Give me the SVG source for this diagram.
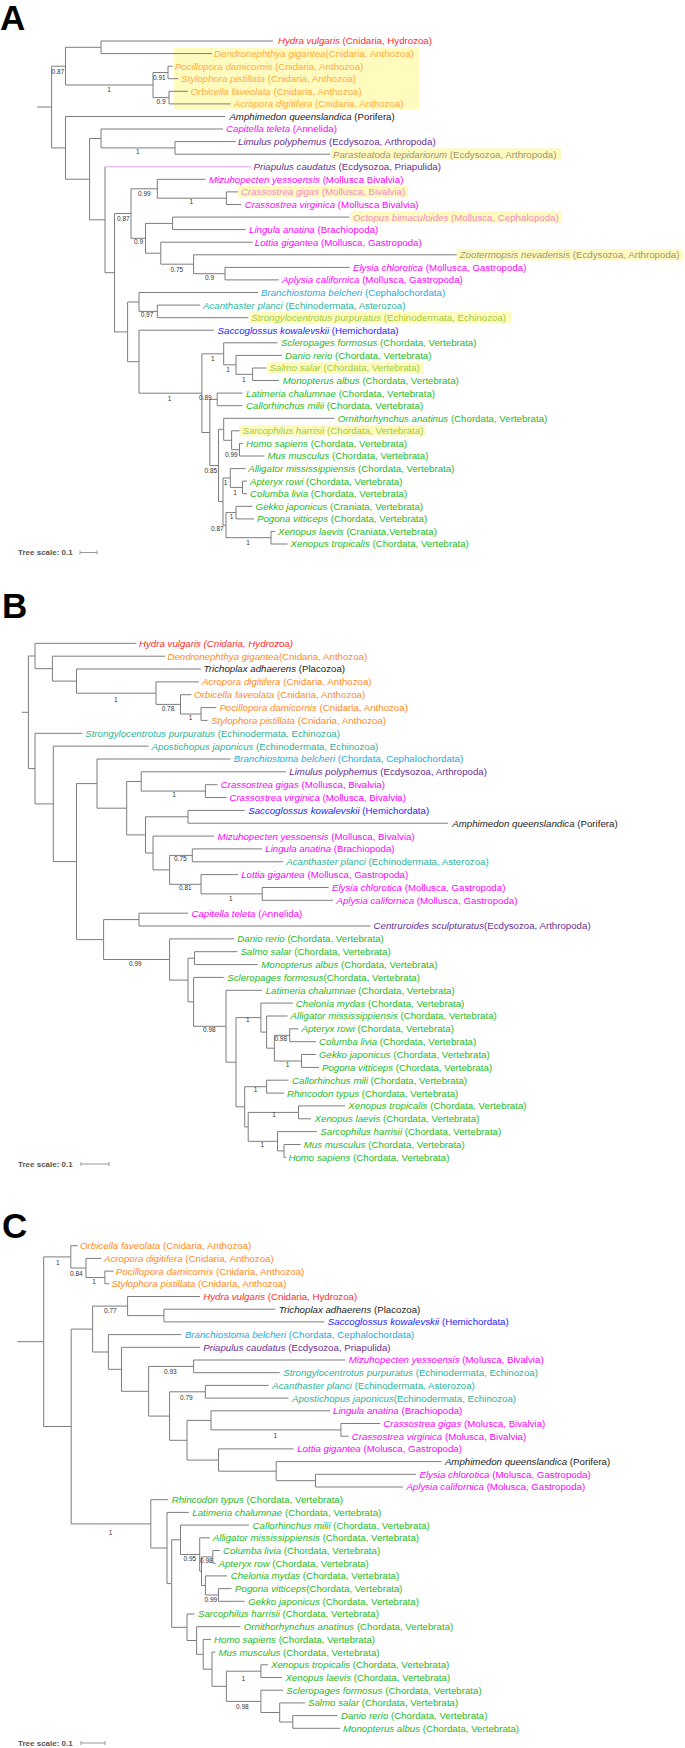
<svg xmlns="http://www.w3.org/2000/svg" width="685" height="1748" viewBox="0 0 685 1748">
<style>
text{font-family:"Liberation Sans",Arial,sans-serif}
.t{font-size:9.7px}
.i{font-style:italic}
.l{fill:none;stroke:#7d7d7d;stroke-width:1}
.bs{font-size:6.5px;fill:#333}
.bm{font-size:6.5px;fill:#333;text-anchor:middle}
.sc{font-size:8px;font-weight:bold;fill:#555}
.sb{fill:none;stroke:#999;stroke-width:1}
.pl{font-size:35px;font-weight:bold;fill:#000}
.hl{fill:#fffbbf}
.cr{fill:#ff2a2a}.co{fill:#ff8a1c}.coy{fill:#ffab40}.ck{fill:#222}.cm{fill:#ff00ff}.cpy{fill:#f48ac4}
.cp{fill:#6a2e92}.cby{fill:#a39274}.cc{fill:#28a9e0}.ct{fill:#2db39b}.cly{fill:#9ccc3c}.cg{fill:#27b827}.cb{fill:#2323ff}
</style>
<rect width="685" height="1748" fill="#fff"/>

<!-- ===================== PANEL A ===================== -->
<g id="a-label"><text class="pl" x="0" y="30">A</text></g>
<g id="a-highlights">
<rect class="hl" x="174" y="47.8" width="245" height="61.4"/>
<rect class="hl" x="331" y="148.4" width="230" height="11.3"/>
<rect class="hl" x="238" y="186.1" width="170" height="11.3"/>
<rect class="hl" x="351" y="211.3" width="211" height="11.3"/>
<rect class="hl" x="456.7" y="249" width="226.3" height="11.3"/>
<rect class="hl" x="249" y="311.9" width="262" height="11.3"/>
<rect class="hl" x="267.4" y="362.2" width="155.6" height="11.3"/>
<rect class="hl" x="239.5" y="425" width="186.5" height="11.3"/>
</g>
<g id="a-connectors">
<path class="l" d="M37,107H51.6 M51.6,66.2V147.9
M51.6,66.2H65.5 M65.5,47.3V85
M65.5,47.3H101 M101,41V53.6 M101,41H273 M101,53.6H212
M65.5,85H153 M153,72.5V97.6
M153,72.5H168 M168,66.2V78.7 M168,66.2H172.6 M168,78.7H178.3
M153,97.6H169 M169,91.3V103.9 M169,91.3H188 M169,103.9H230.7
M51.6,147.9H65.5 M65.5,116.5V179.2 M65.5,116.5H225
M65.5,179.2H89.6 M89.6,138.5V219.8
M89.6,138.5H101 M101,129V147.9 M101,129H223
M101,147.9H175 M175,141.6V154.2 M175,141.6H236 M175,154.2H330
M89.6,219.8H105 M105,166.8V272.7
M105,272.7H114.5 M114.5,213.5V331.9
M114.5,213.5H131 M131,188.8V238.3
M131,188.8H157.3 M157.3,179.3V198.2 M157.3,179.3H205.4
M157.3,198.2H226.4 M226.4,191.9V204.5 M226.4,191.9H238 M226.4,204.5H241
M131,238.3H145.5 M145.5,223.4V253.2
M145.5,223.4H172.6 M172.6,217.1V229.6 M172.6,217.1H349.6 M172.6,229.6H245.6
M145.5,253.2H160.8 M160.8,242.2V264.2 M160.8,242.2H252.6
M160.8,264.2H193.6 M193.6,254.8V273.7 M193.6,254.8H456.7
M193.6,273.7H225 M225,267.4V279.9 M225,267.4H349.6 M225,279.9H278.8
M114.5,331.9H127.6 M127.6,302V361.7
M127.6,302H139 M139,292.5V311.4 M139,292.5H258
M139,311.4H157.3 M157.3,305.1V317.7 M157.3,305.1H200 M157.3,317.7H248.2
M127.6,361.7H139 M139,330.2V393.2 M139,330.2H214
M139,393.2H201.9 M201.9,353.8V432.5
M201.9,353.8H223.7 M223.7,342.8V364.8 M223.7,342.8H277.5
M223.7,364.8H236 M236,355.4V374.3 M236,355.4H281.9
M236,374.3H252.6 M252.6,368V380.5 M252.6,368H266.6 M252.6,380.5H278.8
M201.9,432.5H209.8 M209.8,399.4V465.5
M209.8,399.4H217.2 M217.2,393.1V405.7 M217.2,393.1H242.5 M217.2,405.7H242.5
M209.8,465.5H218.5 M218.5,429.3V501.6
M218.5,429.3H223.7 M223.7,418.3V440.3 M223.7,418.3H334.3
M223.7,440.3H231.6 M231.6,430.8V449.7 M231.6,430.8H239.5
M231.6,449.7H239.5 M239.5,443.4V456 M239.5,443.4H243 M239.5,456H264.4
M218.5,501.6H223 M223,478V525.2
M223,478H230.3 M230.3,468.6V487.4 M230.3,468.6H245.6
M230.3,487.4H242.5 M242.5,481.1V493.7 M242.5,481.1H247 M242.5,493.7H247
M223,525.2H226 M226,512.6V537.7
M226,512.6H236 M236,506.3V518.9 M236,506.3H252.6 M236,518.9H254
M226,537.7H271 M271,531.4V544 M271,531.4H275 M271,544H287.5"/>
<path d="M105,166.8H251" fill="none" stroke="#d9a3ee" stroke-width="1"/>
</g>
<g id="a-support">
<text class="bs" x="51.6" y="74">0.87</text>
<text class="bm" x="109" y="91.6">1</text>
<text class="bs" x="153" y="79.6">0.91</text>
<text class="bs" x="156.5" y="104">0.9</text>
<text class="bm" x="137.7" y="154">1</text>
<text class="bs" x="138" y="196.3">0.99</text>
<text class="bm" x="191.4" y="204">1</text>
<text class="bs" x="117" y="220.6">0.87</text>
<text class="bs" x="134" y="244.3">0.9</text>
<text class="bs" x="170.5" y="271.6">0.75</text>
<text class="bs" x="205" y="279.6">0.9</text>
<text class="bs" x="140.7" y="317.3">0.97</text>
<text class="bm" x="212.8" y="361.3">1</text>
<text class="bm" x="228" y="371.6">1</text>
<text class="bm" x="243.8" y="381.6">1</text>
<text class="bs" x="199" y="399.6">0.89</text>
<text class="bm" x="169.6" y="400.6">1</text>
<text class="bs" x="225" y="457.3">0.99</text>
<text class="bs" x="204.5" y="473.3">0.85</text>
<text class="bm" x="225.5" y="485">1</text>
<text class="bm" x="235" y="494.6">1</text>
<text class="bm" x="231.6" y="519">1</text>
<text class="bs" x="211" y="531.3">0.87</text>
<text class="bm" x="248" y="544.6">1</text>
</g>
<g id="a-hydra"><text class="t cr" x="278" y="44.4"><tspan class="i">Hydra vulgaris</tspan> (Cnidaria, Hydrozoa)</text></g>
<g id="a-dendronephthya"><text class="t coy" x="214" y="57"><tspan class="i">Dendronephthya gigantea</tspan>(Cnidaria, Anthozoa)</text></g>
<g id="a-pocillopora"><text class="t coy" x="174.8" y="69.6"><tspan class="i">Pocillopora damicornis</tspan> (Cnidaria, Anthozoa)</text></g>
<g id="a-stylophora"><text class="t coy" x="181" y="82.1"><tspan class="i">Stylophora pistillata</tspan> (Cnidaria, Anthozoa)</text></g>
<g id="a-orbicella"><text class="t coy" x="190.5" y="94.7"><tspan class="i">Orbicella faveolata</tspan> (Cnidaria, Anthozoa)</text></g>
<g id="a-acropora"><text class="t coy" x="233.8" y="107.3"><tspan class="i">Acropora digitifera</tspan> (Cnidaria, Anthozoa)</text></g>
<g id="a-amphimedon"><text class="t ck" x="229.4" y="119.9"><tspan class="i">Amphimedon queenslandica</tspan> (Porifera)</text></g>
<g id="a-capitella"><text class="t cm" x="226" y="132.4"><tspan class="i">Capitella teleta</tspan> (Annelida)</text></g>
<g id="a-limulus"><text class="t cp" x="238" y="145"><tspan class="i">Limulus polyphemus</tspan> (Ecdysozoa, Arthropoda)</text></g>
<g id="a-parasteatoda"><text class="t cby" x="333" y="157.6"><tspan class="i">Parasteatoda tepidariorum</tspan> (Ecdysozoa, Arthropoda)</text></g>
<g id="a-priapulus"><text class="t cp" x="253.5" y="170.2"><tspan class="i">Priapulus caudatus</tspan> (Ecdysozoa, Priapulida)</text></g>
<g id="a-mizuhopecten"><text class="t cm" x="209" y="182.7"><tspan class="i">Mizuhopecten yessoensis</tspan> (Mollusca Bivalvia)</text></g>
<g id="a-crassostrea-gigas"><text class="t cpy" x="241" y="195.3"><tspan class="i">Crassostrea gigas</tspan> (Mollusca, Bivalvia)</text></g>
<g id="a-crassostrea-virginica"><text class="t cm" x="244.7" y="207.9"><tspan class="i">Crassostrea virginica</tspan> (Mollusca Bivalvia)</text></g>
<g id="a-octopus"><text class="t cpy" x="353" y="220.5"><tspan class="i">Octopus bimaculoides</tspan> (Mollusca, Cephalopoda)</text></g>
<g id="a-lingula"><text class="t cm" x="249" y="233"><tspan class="i">Lingula anatina</tspan> (Brachiopoda)</text></g>
<g id="a-lottia"><text class="t cm" x="254.8" y="245.6"><tspan class="i">Lottia gigantea</tspan> (Mollusca, Gastropoda)</text></g>
<g id="a-zootermopsis"><text class="t cby" x="459.7" y="258.2"><tspan class="i">Zootermopsis nevadensis</tspan> (Ecdysozoa, Arthropoda)</text></g>
<g id="a-elysia"><text class="t cm" x="353" y="270.8"><tspan class="i">Elysia chlorotica</tspan> (Mollusca, Gastropoda)</text></g>
<g id="a-aplysia"><text class="t cm" x="281.9" y="283.3"><tspan class="i">Aplysia californica</tspan> (Mollusca, Gastropoda)</text></g>
<g id="a-branchiostoma"><text class="t cc" x="261" y="295.9"><tspan class="i">Branchiostoma belcheri</tspan> (Cephalochordata)</text></g>
<g id="a-acanthaster"><text class="t ct" x="203" y="308.5"><tspan class="i">Acanthaster planci</tspan> (Echinodermata, Asterozoa)</text></g>
<g id="a-strongylocentrotus"><text class="t cly" x="251.3" y="321.1"><tspan class="i">Strongylocentrotus purpuratus</tspan> (Echinodermata, Echinozoa)</text></g>
<g id="a-saccoglossus"><text class="t cb" x="217.6" y="333.6"><tspan class="i">Saccoglossus kowalevskii</tspan> (Hemichordata)</text></g>
<g id="a-scleropages"><text class="t cg" x="281" y="346.2"><tspan class="i">Scleropages formosus</tspan> (Chordata, Vertebrata)</text></g>
<g id="a-danio"><text class="t cg" x="285" y="358.8"><tspan class="i">Danio rerio</tspan> (Chordata, Vertebrata)</text></g>
<g id="a-salmo"><text class="t cly" x="269.6" y="371.4"><tspan class="i">Salmo salar</tspan> (Chordata, Vertebrata)</text></g>
<g id="a-monopterus"><text class="t cg" x="282.7" y="383.9"><tspan class="i">Monopterus albus</tspan> (Chordata, Vertebrata)</text></g>
<g id="a-latimeria"><text class="t cg" x="246" y="396.5"><tspan class="i">Latimeria chalumnae</tspan> (Chordata, Vertebrata)</text></g>
<g id="a-callorhinchus"><text class="t cg" x="246" y="409.1"><tspan class="i">Callorhinchus milii</tspan> (Chordata, Vertebrata)</text></g>
<g id="a-ornithorhynchus"><text class="t cg" x="337.8" y="421.7"><tspan class="i">Ornithorhynchus anatinus</tspan> (Chordata, Vertebrata)</text></g>
<g id="a-sarcophilus"><text class="t cly" x="242.5" y="434.2"><tspan class="i">Sarcophilus harrisii</tspan> (Chordata, Vertebrata)</text></g>
<g id="a-homo"><text class="t cg" x="246" y="446.8"><tspan class="i">Homo sapiens</tspan> (Chordata, Vertebrata)</text></g>
<g id="a-mus"><text class="t cg" x="267.4" y="459.4"><tspan class="i">Mus musculus</tspan> (Chordata, Vertebrata)</text></g>
<g id="a-alligator"><text class="t cg" x="248.2" y="472"><tspan class="i">Alligator mississippiensis</tspan> (Chordata, Vertebrata)</text></g>
<g id="a-apteryx"><text class="t cg" x="250" y="484.5"><tspan class="i">Apteryx rowi</tspan> (Chordata, Vertebrata)</text></g>
<g id="a-columba"><text class="t cg" x="250" y="497.1"><tspan class="i">Columba livia</tspan> (Chordata, Vertebrata)</text></g>
<g id="a-gekko"><text class="t cg" x="255.6" y="509.7"><tspan class="i">Gekko japonicus</tspan> (Craniata, Vertebrata)</text></g>
<g id="a-pogona"><text class="t cg" x="257" y="522.3"><tspan class="i">Pogona vitticeps</tspan> (Chordata, Vertebrata)</text></g>
<g id="a-xenopus-laevis"><text class="t cg" x="278" y="534.8"><tspan class="i">Xenopus laevis</tspan> (Craniata,Vertebrata)</text></g>
<g id="a-xenopus-tropicalis"><text class="t cg" x="290.6" y="547.4"><tspan class="i">Xenopus tropicalis</tspan> (Chordata, Vertebrata)</text></g>
<g id="a-scale"><text class="sc" x="18" y="555.3">Tree scale: 0.1</text><path class="sb" d="M80,552.5H97 M80,550.5V554.5 M97,550.5V554.5"/></g>

<!-- ===================== PANEL B ===================== -->
<g id="b-label"><text class="pl" x="2" y="618">B</text></g>
<g id="b-connectors">
<path class="l" d="M21.8,712.3H28.4 M28.4,656V768.6
M28.4,656H35 M35,643.3V668.7 M35,643.3H136.3
M35,668.7H52.4 M52.4,656.2V681.1 M52.4,656.2H165.2
M52.4,681.1H76.5 M76.5,669V693.2 M76.5,669H201
M76.5,693.2H156 M156,681.9V704.4 M156,681.9H198.8
M156,704.4H180.5 M180.5,694.7V714 M180.5,694.7H191.4
M180.5,714H201 M201,707.6V720.4 M201,707.6H216.3 M201,720.4H207.6
M28.4,768.6H35 M35,733.3V803.9 M35,733.3H82.2
M35,803.9H53.3 M53.3,746.1V861.6 M53.3,746.1H148.6
M53.3,861.6H76.5 M76.5,783.6V939.6
M76.5,783.6H97 M97,759V808.2 M97,759H230.7
M97,808.2H126.7 M126.7,781.5V834.9
M126.7,781.5H141.2 M141.2,771.8V791.1 M141.2,771.8H286.2
M141.2,791.1H205.4 M205.4,784.7V797.5 M205.4,784.7H217.6 M205.4,797.5H226.4
M126.7,834.9H145.5 M145.5,816.8V853
M145.5,816.8H188 M188,810.4V823.2 M188,810.4H244.7 M188,823.2H448
M145.5,853H153 M153,836.1V869.9 M153,836.1H214
M153,869.9H169.6 M169.6,855.4V884.3
M169.6,855.4H192.3 M192.3,848.9V861.8 M192.3,848.9H262.2 M192.3,861.8H283.2
M169.6,884.3H201 M201,874.6V893.9 M201,874.6H238.2
M201,893.9H262.2 M262.2,887.5V900.3 M262.2,887.5H328.6 M262.2,900.3H333
M76.5,939.6H103.6 M103.6,919.6V959.5
M103.6,919.6H139 M139,913.2V926 M139,913.2H188 M139,926H370.6
M103.6,959.5H169.6 M169.6,938.9V980.1 M169.6,938.9H234.2
M169.6,980.1H188 M188,958.2V1001.9
M188,958.2H194.5 M194.5,951.7V964.6 M194.5,951.7H237.3 M194.5,964.6H257.8
M188,1001.9H193.6 M193.6,977.4V1026.3 M193.6,977.4H223.7
M193.6,1026.3H226 M226,990.3V1062.2 M226,990.3H262.2
M226,1062.2H236 M236,1017.6V1106.8
M236,1017.6H260.9 M260.9,1003.1V1032.1 M260.9,1003.1H292.8
M260.9,1032.1H266.6 M266.6,1016V1048.2 M266.6,1016H287.5
M266.6,1048.2H274.4 M274.4,1035.3V1061
M274.4,1035.3H289.7 M289.7,1028.8V1041.7 M289.7,1028.8H298.5 M289.7,1041.7H316
M274.4,1061H301.5 M301.5,1054.5V1067.4 M301.5,1054.5H316 M301.5,1067.4H319
M236,1106.8H244.7 M244.7,1086.7V1126.9
M244.7,1086.7H266.6 M266.6,1080.2V1093.1 M266.6,1080.2H288.4 M266.6,1093.1H284
M244.7,1126.9H248.2 M248.2,1112.4V1141.3
M248.2,1112.4H298.5 M298.5,1105.9V1118.8 M298.5,1105.9H345.2 M298.5,1118.8H311
M248.2,1141.3H277.5 M277.5,1131.6V1150.9 M277.5,1131.6H316.8
M277.5,1150.9H284 M284,1144.5V1157.3 M284,1144.5H300.6 M284,1157.3H286.2"/>
</g>
<g id="b-support">
<text class="bm" x="115.8" y="701.6">1</text>
<text class="bs" x="161.7" y="710.6">0.78</text>
<text class="bm" x="190.5" y="720.3">1</text>
<text class="bm" x="174" y="797.3">1</text>
<text class="bs" x="174" y="861.3">0.75</text>
<text class="bs" x="179" y="889.6">0.81</text>
<text class="bm" x="230.7" y="900.6">1</text>
<text class="bs" x="129" y="965.6">0.99</text>
<text class="bs" x="203" y="1032.3">0.98</text>
<text class="bm" x="247.8" y="1022.3">1</text>
<text class="bs" x="274.4" y="1040.6">0.98</text>
<text class="bm" x="287.5" y="1066.6">1</text>
<text class="bm" x="255.6" y="1092.3">1</text>
<text class="bm" x="274" y="1117.3">1</text>
<text class="bm" x="262.2" y="1147.3">1</text>
</g>
<g id="b-hydra"><text class="t cr i" x="139" y="646.7">Hydra vulgaris (Cnidaria, Hydrozoa)</text></g>
<g id="b-dendronephthya"><text class="t co" x="167.4" y="659.6"><tspan class="i">Dendronephthya gigantea</tspan>(Cnidaria, Anthozoa)</text></g>
<g id="b-trichoplax"><text class="t ck" x="203.6" y="672.4"><tspan class="i">Trichoplax adhaerens</tspan> (Placozoa)</text></g>
<g id="b-acropora"><text class="t co" x="201.9" y="685.3"><tspan class="i">Acropora digitifera</tspan> (Cnidaria, Anthozoa)</text></g>
<g id="b-orbicella"><text class="t co" x="194" y="698.1"><tspan class="i">Orbicella faveolata</tspan> (Cnidaria, Anthozoa)</text></g>
<g id="b-pocillopora"><text class="t co" x="219.4" y="711"><tspan class="i">Pocillopora damicornis</tspan> (Cnidaria, Anthozoa)</text></g>
<g id="b-stylophora"><text class="t co" x="211" y="723.8"><tspan class="i">Stylophora pistillata</tspan> (Cnidaria, Anthozoa)</text></g>
<g id="b-strongylocentrotus"><text class="t ct" x="85.2" y="736.7"><tspan class="i">Strongylocentrotus purpuratus</tspan> (Echinodermata, Echinozoa)</text></g>
<g id="b-apostichopus"><text class="t ct" x="151.6" y="749.5"><tspan class="i">Apostichopus japonicus</tspan> (Echinodermata, Echinozoa)</text></g>
<g id="b-branchiostoma"><text class="t cc" x="233.8" y="762.4"><tspan class="i">Branchiostoma belcheri</tspan> (Chordata, Cephalochordata)</text></g>
<g id="b-limulus"><text class="t cp" x="289.3" y="775.2"><tspan class="i">Limulus polyphemus</tspan> (Ecdysozoa, Arthropoda)</text></g>
<g id="b-crassostrea-gigas"><text class="t cm" x="220.7" y="788.1"><tspan class="i">Crassostrea gigas</tspan> (Mollusca, Bivalvia)</text></g>
<g id="b-crassostrea-virginica"><text class="t cm" x="229.4" y="800.9"><tspan class="i">Crassostrea virginica</tspan> (Mollusca, Bivalvia)</text></g>
<g id="b-saccoglossus"><text class="t cb" x="248.2" y="813.8"><tspan class="i">Saccoglossus kowalevskii</tspan> (Hemichordata)</text></g>
<g id="b-amphimedon"><text class="t ck" x="452.3" y="826.6"><tspan class="i">Amphimedon queenslandica</tspan> (Porifera)</text></g>
<g id="b-mizuhopecten"><text class="t cm" x="217.6" y="839.5"><tspan class="i">Mizuhopecten yessoensis</tspan> (Mollusca, Bivalvia)</text></g>
<g id="b-lingula"><text class="t cm" x="265.3" y="852.3"><tspan class="i">Lingula anatina</tspan> (Brachiopoda)</text></g>
<g id="b-acanthaster"><text class="t ct" x="286.2" y="865.2"><tspan class="i">Acanthaster planci</tspan> (Echinodermata, Asterozoa)</text></g>
<g id="b-lottia"><text class="t cm" x="241.2" y="878"><tspan class="i">Lottia gigantea</tspan> (Mollusca, Gastropoda)</text></g>
<g id="b-elysia"><text class="t cm" x="332" y="890.9"><tspan class="i">Elysia chlorotica</tspan> (Mollusca, Gastropoda)</text></g>
<g id="b-aplysia"><text class="t cm" x="336.5" y="903.7"><tspan class="i">Aplysia californica</tspan> (Mollusca, Gastropoda)</text></g>
<g id="b-capitella"><text class="t cm" x="191.4" y="916.6"><tspan class="i">Capitella teleta</tspan> (Annelida)</text></g>
<g id="b-centruroides"><text class="t cp" x="373.6" y="929.4"><tspan class="i">Centruroides sculpturatus</tspan>(Ecdysozoa, Arthropoda)</text></g>
<g id="b-danio"><text class="t cg" x="237.3" y="942.3"><tspan class="i">Danio rerio</tspan> (Chordata, Vertebrata)</text></g>
<g id="b-salmo"><text class="t cg" x="240.4" y="955.1"><tspan class="i">Salmo salar</tspan> (Chordata, Vertebrata)</text></g>
<g id="b-monopterus"><text class="t cg" x="261.3" y="968"><tspan class="i">Monopterus albus</tspan> (Chordata, Vertebrata)</text></g>
<g id="b-scleropages"><text class="t cg" x="227.2" y="980.8"><tspan class="i">Scleropages formosus</tspan>(Chordata, Vertebrata)</text></g>
<g id="b-latimeria"><text class="t cg" x="265.7" y="993.7"><tspan class="i">Latimeria chalumnae</tspan> (Chordata, Vertebrata)</text></g>
<g id="b-chelonia"><text class="t cg" x="295.8" y="1006.5"><tspan class="i">Chelonia mydas</tspan> (Chordata, Vertebrata)</text></g>
<g id="b-alligator"><text class="t cg" x="290.6" y="1019.4"><tspan class="i">Alligator mississippiensis</tspan> (Chordata, Vertebrata)</text></g>
<g id="b-apteryx"><text class="t cg" x="301.5" y="1032.2"><tspan class="i">Apteryx rowi</tspan> (Chordata, Vertebrata)</text></g>
<g id="b-columba"><text class="t cg" x="319" y="1045.1"><tspan class="i">Columba livia</tspan> (Chordata, Vertebrata)</text></g>
<g id="b-gekko"><text class="t cg" x="319" y="1057.9"><tspan class="i">Gekko japonicus</tspan> (Chordata, Vertebrata)</text></g>
<g id="b-pogona"><text class="t cg" x="322" y="1070.8"><tspan class="i">Pogona vitticeps</tspan> (Chordata, Vertebrata)</text></g>
<g id="b-callorhinchus"><text class="t cg" x="292" y="1083.6"><tspan class="i">Callorhinchus mili</tspan> (Chordata, Vertebrata)</text></g>
<g id="b-rhincodon"><text class="t cg" x="287" y="1096.5"><tspan class="i">Rhincodon typus</tspan> (Chordata, Vertebrata)</text></g>
<g id="b-xenopus-tropicalis"><text class="t cg" x="348.3" y="1109.3"><tspan class="i">Xenopus tropicalis</tspan> (Chordata, Vertebrata)</text></g>
<g id="b-xenopus-laevis"><text class="t cg" x="314.6" y="1122.2"><tspan class="i">Xenopus laevis</tspan> (Chordata, Vertebrata)</text></g>
<g id="b-sarcophilus"><text class="t cg" x="320.3" y="1135"><tspan class="i">Sarcophilus harrisii</tspan> (Chordata, Vertebrata)</text></g>
<g id="b-mus"><text class="t cg" x="303.7" y="1147.9"><tspan class="i">Mus musculus</tspan> (Chordata, Vertebrata)</text></g>
<g id="b-homo"><text class="t cg" x="288.4" y="1160.7"><tspan class="i">Homo sapiens</tspan> (Chordata, Vertebrata)</text></g>
<g id="b-scale"><text class="sc" x="18" y="1167">Tree scale: 0.1</text><path class="sb" d="M81,1164H109 M81,1162V1166 M109,1162V1166"/></g>

<!-- ===================== PANEL C ===================== -->
<g id="c-label"><text class="pl" x="2" y="1238">C</text></g>
<g id="c-connectors">
<path class="l" d="M17.5,1341.7H43.7 M43.7,1256.9V1426.5
M43.7,1256.9H70.8 M70.8,1245.7V1268 M70.8,1245.7H77.8
M70.8,1268H86 M86,1258.4V1277.5 M86,1258.4H101.4
M86,1277.5H104.9 M104.9,1271.1V1283.8 M104.9,1271.1H113.6 M104.9,1283.8H109.2
M43.7,1426.5H71.2 M71.2,1329.1V1523.9
M71.2,1329.1H92.6 M92.6,1306.1V1352
M92.6,1306.1H127.6 M127.6,1296.5V1315.6 M127.6,1296.5H200
M127.6,1315.6H163.9 M163.9,1309.2V1321.9 M163.9,1309.2H275.3 M163.9,1321.9H324.3
M92.6,1352H108.4 M108.4,1334.6V1369.3 M108.4,1334.6H181.4
M108.4,1369.3H121.5 M121.5,1347.3V1391.3 M121.5,1347.3H200
M121.5,1391.3H148.6 M148.6,1366.4V1416.1
M148.6,1366.4H193.6 M193.6,1360V1372.7 M193.6,1360H345.2 M193.6,1372.7H279.7
M148.6,1416.1H169.6 M169.6,1391.8V1440.3
M169.6,1391.8H205.4 M205.4,1385.4V1398.1 M205.4,1385.4H268.8 M205.4,1398.1H288.4
M169.6,1440.3H187 M187,1420.4V1460.1
M187,1420.4H211 M211,1410.8V1429.9 M211,1410.8H330
M211,1429.9H340.9 M340.9,1423.5V1436.2 M340.9,1423.5H380.2 M340.9,1436.2H348.7
M187,1460.1H218.5 M218.5,1448.9V1471.2 M218.5,1448.9H293.7
M218.5,1471.2H276.2 M276.2,1461.6V1480.7 M276.2,1461.6H441.4
M276.2,1480.7H315.5 M315.5,1474.3V1487 M315.5,1474.3H416 M315.5,1487H403
M71.2,1523.9H150.8 M150.8,1499.7V1548 M150.8,1499.7H168.2
M150.8,1548H167 M167,1512.4V1583.6 M167,1512.4H188.8
M167,1583.6H171.7 M171.7,1539.8V1627.3
M171.7,1539.8H180.5 M180.5,1525.1V1554.5 M180.5,1525.1H249
M180.5,1554.5H199.7 M199.7,1537.8V1571.2 M199.7,1537.8H209.8
M199.7,1571.2H201.5 M201.5,1556.9V1585.5
M201.5,1556.9H212.8 M212.8,1550.5V1563.2 M212.8,1550.5H219.8 M212.8,1563.2H215.5
M201.5,1585.5H205.4 M205.4,1575.9V1595 M205.4,1575.9H227.2
M205.4,1595H218.5 M218.5,1588.6V1601.3 M218.5,1588.6H231.6 M218.5,1601.3H244.7
M171.7,1627.3H187 M187,1614V1640.5 M187,1614H194.5
M187,1640.5H196.6 M196.6,1626.7V1654.3 M196.6,1626.7H240.4
M196.6,1654.3H203.2 M203.2,1639.4V1669.2 M203.2,1639.4H211
M203.2,1669.2H212 M212,1652.1V1686.3 M212,1652.1H215.4
M212,1686.3H226.4 M226.4,1671.2V1701.4
M226.4,1671.2H260.9 M260.9,1664.8V1677.5 M260.9,1664.8H267.9 M260.9,1677.5H281.9
M226.4,1701.4H260.9 M260.9,1690.2V1712.5 M260.9,1690.2H283.2
M260.9,1712.5H279.7 M279.7,1702.9V1722 M279.7,1702.9H305
M279.7,1722H292.8 M292.8,1715.6V1728.3 M292.8,1715.6H337.4 M292.8,1728.3H340"/>
</g>
<g id="c-support">
<text class="bm" x="57.7" y="1264.6">1</text>
<text class="bs" x="70" y="1275.6">0.84</text>
<text class="bm" x="94" y="1284">1</text>
<text class="bs" x="104" y="1313">0.77</text>
<text class="bs" x="164" y="1374">0.93</text>
<text class="bs" x="180" y="1399.6">0.79</text>
<text class="bm" x="275.3" y="1438">1</text>
<text class="bm" x="110.6" y="1535">1</text>
<text class="bs" x="183.5" y="1561.3">0.95</text>
<text class="bs" x="200" y="1563.3">0.98</text>
<text class="bs" x="204.5" y="1602.3">0.99</text>
<text class="bm" x="243.4" y="1681.3">1</text>
<text class="bs" x="236" y="1709">0.98</text>
</g>
<g id="c-orbicella"><text class="t co" x="80" y="1249.1"><tspan class="i">Orbicella faveolata</tspan> (Cnidaria, Anthozoa)</text></g>
<g id="c-acropora"><text class="t co" x="104" y="1261.8"><tspan class="i">Acropora digitifera</tspan> (Cnidaria, Anthozoa)</text></g>
<g id="c-pocillopora"><text class="t co" x="115.8" y="1274.5"><tspan class="i">Pocillopora damicornis</tspan> (Cnidaria, Anthozoa)</text></g>
<g id="c-stylophora"><text class="t co" x="111.4" y="1287.2"><tspan class="i">Stylophora pistillata</tspan> (Cnidaria, Anthozoa)</text></g>
<g id="c-hydra"><text class="t cr" x="203.2" y="1299.9"><tspan class="i">Hydra vulgaris</tspan> (Cnidaria, Hydrozoa)</text></g>
<g id="c-trichoplax"><text class="t ck" x="278.8" y="1312.6"><tspan class="i">Trichoplax adhaerens</tspan> (Placozoa)</text></g>
<g id="c-saccoglossus"><text class="t cb" x="327.8" y="1325.3"><tspan class="i">Saccoglossus kowalevskii</tspan> (Hemichordata)</text></g>
<g id="c-branchiostoma"><text class="t cc" x="184.9" y="1338"><tspan class="i">Branchiostoma belcheri</tspan> (Chordata, Cephalochordata)</text></g>
<g id="c-priapulus"><text class="t cp" x="203.2" y="1350.7"><tspan class="i">Priapulus caudatus</tspan> (Ecdysozoa, Priapulida)</text></g>
<g id="c-mizuhopecten"><text class="t cm" x="348.7" y="1363.4"><tspan class="i">Mizuhopecten yessoensis</tspan> (Molusca, Bivalvia)</text></g>
<g id="c-strongylocentrotus"><text class="t ct" x="283.2" y="1376.1"><tspan class="i">Strongylocentrotus purpuratus</tspan> (Echinodermata, Echinozoa)</text></g>
<g id="c-acanthaster"><text class="t ct" x="272.3" y="1388.8"><tspan class="i">Acanthaster planci</tspan> (Echinodermata, Asterozoa)</text></g>
<g id="c-apostichopus"><text class="t ct" x="292" y="1401.5"><tspan class="i">Apostichopus japonicus</tspan>(Echinodermata, Echinozoa)</text></g>
<g id="c-lingula"><text class="t cm" x="333" y="1414.2"><tspan class="i">Lingula anatina</tspan> (Brachiopoda)</text></g>
<g id="c-crassostrea-gigas"><text class="t cm" x="383.2" y="1426.9"><tspan class="i">Crassostrea gigas</tspan> (Molusca, Bivalvia)</text></g>
<g id="c-crassostrea-virginica"><text class="t cm" x="351.8" y="1439.6"><tspan class="i">Crassostrea virginica</tspan> (Molusca, Bivalvia)</text></g>
<g id="c-lottia"><text class="t cm" x="297.2" y="1452.3"><tspan class="i">Lottia gigantea</tspan> (Molusca, Gastropoda)</text></g>
<g id="c-amphimedon"><text class="t ck" x="444.9" y="1465"><tspan class="i">Amphimedon queenslandica</tspan> (Porifera)</text></g>
<g id="c-elysia"><text class="t cm" x="419.5" y="1477.7"><tspan class="i">Elysia chlorotica</tspan> (Molusca, Gastropoda)</text></g>
<g id="c-aplysia"><text class="t cm" x="406.4" y="1490.4"><tspan class="i">Aplysia californica</tspan> (Molusca, Gastropoda)</text></g>
<g id="c-rhincodon"><text class="t cg" x="171.7" y="1503.1"><tspan class="i">Rhincodon typus</tspan> (Chordata, Vertebrata)</text></g>
<g id="c-latimeria"><text class="t cg" x="192.3" y="1515.8"><tspan class="i">Latimeria chalumnae</tspan> (Chordata, Vertebrata)</text></g>
<g id="c-callorhinchus"><text class="t cg" x="252.6" y="1528.5"><tspan class="i">Callorhinchus milii</tspan> (Chordata, Vertebrata)</text></g>
<g id="c-alligator"><text class="t cg" x="212.8" y="1541.2"><tspan class="i">Alligator mississippiensis</tspan> (Chordata, Vertebrata)</text></g>
<g id="c-columba"><text class="t cg" x="222.9" y="1553.9"><tspan class="i">Columba livia</tspan> (Chordata, Vertebrata)</text></g>
<g id="c-apteryx"><text class="t cg" x="218.5" y="1566.6"><tspan class="i">Apteryx row</tspan> (Chordata, Vertebrata)</text></g>
<g id="c-chelonia"><text class="t cg" x="230.7" y="1579.3"><tspan class="i">Chelonia mydas</tspan> (Chordata, Vertebrata)</text></g>
<g id="c-pogona"><text class="t cg" x="235.1" y="1592"><tspan class="i">Pogona vitticeps</tspan>(Chordata, Vertebrata)</text></g>
<g id="c-gekko"><text class="t cg" x="248.2" y="1604.7"><tspan class="i">Gekko japonicus</tspan> (Chordata, Vertebrata)</text></g>
<g id="c-sarcophilus"><text class="t cg" x="198" y="1617.4"><tspan class="i">Sarcophilus harrisii</tspan> (Chordata, Vertebrata)</text></g>
<g id="c-ornithorhynchus"><text class="t cg" x="243.8" y="1630.1"><tspan class="i">Ornithorhynchus anatinus</tspan> (Chordata, Vertebrata)</text></g>
<g id="c-homo"><text class="t cg" x="214" y="1642.8"><tspan class="i">Homo sapiens</tspan> (Chordata, Vertebrata)</text></g>
<g id="c-mus"><text class="t cg" x="218.5" y="1655.5"><tspan class="i">Mus musculus</tspan> (Chordata, Vertebrata)</text></g>
<g id="c-xenopus-tropicalis"><text class="t cg" x="271" y="1668.2"><tspan class="i">Xenopus tropicalis</tspan> (Chordata, Vertebrata)</text></g>
<g id="c-xenopus-laevis"><text class="t cg" x="285.4" y="1680.9"><tspan class="i">Xenopus laevis</tspan> (Chordata, Vertebrata)</text></g>
<g id="c-scleropages"><text class="t cg" x="286.2" y="1693.6"><tspan class="i">Scleropages formosus</tspan> (Chordata, Vertebrata)</text></g>
<g id="c-salmo"><text class="t cg" x="308" y="1706.3"><tspan class="i">Salmo salar</tspan> (Chordata, Vertebrata)</text></g>
<g id="c-danio"><text class="t cg" x="340.9" y="1719"><tspan class="i">Danio rerio</tspan> (Chordata, Vertebrata)</text></g>
<g id="c-monopterus"><text class="t cg" x="343" y="1731.7"><tspan class="i">Monopterus albus</tspan> (Chordata, Vertebrata)</text></g>
<g id="c-scale"><text class="sc" x="18" y="1746">Tree scale: 0.1</text><path class="sb" d="M81,1743H105 M81,1741V1745 M105,1741V1745"/></g>
</svg>
